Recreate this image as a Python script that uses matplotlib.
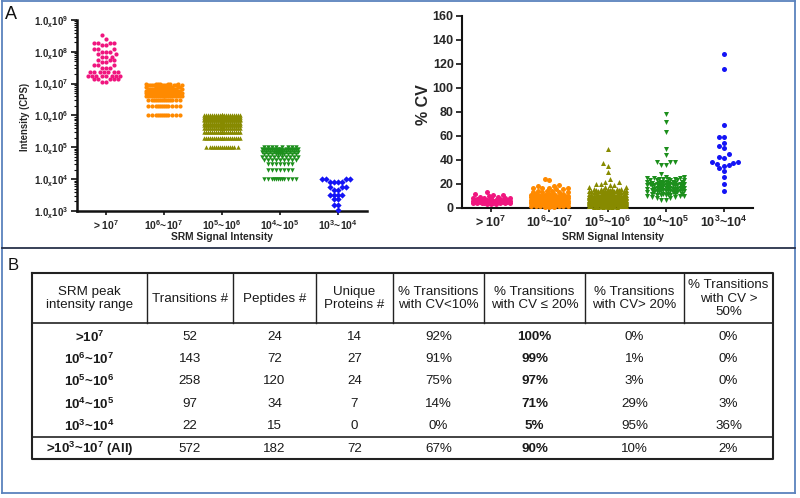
import numpy as np
import matplotlib
matplotlib.use('Agg')
import matplotlib.pyplot as plt
from matplotlib.ticker import FixedLocator, NullFormatter, LogLocator

plt.rcParams['font.family'] = ['Liberation Sans', 'DejaVu Sans']
plt.rcParams['mathtext.fontset'] = 'custom'
plt.rcParams['mathtext.rm'] = 'Liberation Sans'
plt.rcParams['mathtext.bf'] = 'Liberation Sans:bold'

# ---------------- data ----------------
categories = [r'> $\mathregular{10^{7}}$',
              r'$\mathregular{10^{6}}$~$\mathregular{10^{7}}$',
              r'$\mathregular{10^{5}}$~$\mathregular{10^{6}}$',
              r'$\mathregular{10^{4}}$~$\mathregular{10^{5}}$',
              r'$\mathregular{10^{3}}$~$\mathregular{10^{4}}$']
colors = ['#f0167f', '#ff8a00', '#878a00', '#1c8f1c', '#1414f5']
markers_left = ['o', 'o', '^', 'v', 'D']
markers_right = ['o', 'o', '^', 'v', 'o']

# Intensity (CPS): distinct values and how many transitions sit at each
pink_int_vals = [3.3e8, 2.6e8, 1.95e8, 1.6e8, 1.25e8, 1.0e8, 8.7e7, 6.9e7,
                 5.4e7, 4.8e7, 4.0e7, 3.2e7, 2.3e7, 1.8e7, 1.4e7, 1.1e7]
pink_int_counts = [1, 1, 4, 2, 3, 3, 2, 3, 3, 2, 3, 3, 7, 8, 5, 2]
orange_int_vals = [1e6, 2e6, 3e6, 4e6, 5e6, 6e6, 7e6, 8e6, 9e6, 1e7]
orange_int_counts = [12, 12, 14, 20, 22, 18, 16, 12, 10, 7]
olive_int_vals = [1e5, 2e5, 3e5, 4e5, 5e5, 6e5, 7e5, 8e5, 9e5, 1e6]
olive_int_counts = [15, 20, 25, 28, 30, 32, 32, 28, 25, 23]
green_int_vals = [1e4, 2e4, 3e4, 4e4, 5e4, 6e4, 7e4, 8e4, 9e4, 1e5]
green_int_counts = [12, 7, 7, 9, 10, 11, 12, 11, 10, 8]
blue_int_vals = [1e4, 8e3, 5.7e3, 4.5e3, 3.2e3, 2.3e3, 1.5e3, 1.1e3]
blue_int_counts = [4, 4, 3, 2, 4, 2, 2, 1]

# % CV: distinct values and counts
pink_cv_vals = [13.5, 11.5, 11, 10.5, 10, 9.5, 9, 8.5, 8, 7.5, 7, 6.5, 6, 5.5, 5, 4.5, 4, 3.5, 3]
pink_cv_counts = [1, 1, 1, 1, 1, 1, 1, 2, 3, 2, 4, 4, 6, 6, 6, 5, 4, 2, 1]
orange_cv_vals = [24.5, 23.5, 19, 18, 17, 16, 14, 13, 12, 11, 10, 9, 8, 7, 6, 5, 4, 3, 2, 1]
orange_cv_counts = [1, 1, 1, 2, 4, 2, 3, 4, 4, 6, 8, 10, 12, 14, 16, 16, 16, 12, 8, 3]
olive_cv_vals = [49, 37.5, 35, 30, 24.5, 22, 20, 19, 17.5, 16, 15, 14, 13, 12, 11, 10,
                 9, 8, 7, 6, 5, 4, 3, 2, 1]
olive_cv_counts = [1, 1, 1, 1, 1, 2, 2, 2, 3, 6, 6, 8, 10, 12, 14, 16,
                   18, 20, 22, 24, 24, 24, 20, 14, 6]
green_cv_vals = [78, 71.5, 63.5, 49, 44.5, 38.5, 35.5, 28.5, 26, 25, 24, 23, 22, 21, 20,
                 19, 18, 17, 16, 15, 14, 13, 12, 11, 10, 9, 8, 7]
green_cv_counts = [1, 1, 1, 1, 1, 3, 2, 1, 2, 3, 4, 5, 5, 5, 5,
                   6, 6, 6, 5, 5, 6, 5, 5, 4, 3, 2, 2, 2]
blue_cv_vals = [128.6, 115.6, 69, 59, 54, 52, 50, 45, 42.5, 42, 38, 37.5, 37, 36, 35,
                33.5, 30.5, 25.5, 20, 14]
blue_cv_counts = [1, 1, 1, 2, 1, 1, 1, 1, 1, 1, 2, 1, 1, 1, 1, 1, 1, 1, 1, 1]

int_groups = [(pink_int_vals, pink_int_counts), (orange_int_vals, orange_int_counts),
              (olive_int_vals, olive_int_counts), (green_int_vals, green_int_counts),
              (blue_int_vals, blue_int_counts)]
cv_groups = [(pink_cv_vals, pink_cv_counts), (orange_cv_vals, orange_cv_counts),
             (olive_cv_vals, olive_cv_counts), (green_cv_vals, green_cv_counts),
             (blue_cv_vals, blue_cv_counts)]

left_yticks = [1e3, 1e4, 1e5, 1e6, 1e7, 1e8, 1e9]
left_ytick_labels = [r'$\mathregular{1.0_{x}10^{%d}}$' % e for e in range(3, 10)]
right_yticks = [0, 20, 40, 60, 80, 100, 120, 140, 160]

table_header = ['SRM peak\nintensity range', 'Transitions #', 'Peptides #',
                'Unique\nProteins #', '% Transitions\nwith CV<10%',
                '% Transitions\nwith CV \u2264 20%', '% Transitions\nwith CV> 20%',
                '% Transitions\nwith CV >\n50%']
row_labels = [r'>$\mathregular{10^{7}}$',
              r'$\mathregular{10^{6}}$~$\mathregular{10^{7}}$',
              r'$\mathregular{10^{5}}$~$\mathregular{10^{6}}$',
              r'$\mathregular{10^{4}}$~$\mathregular{10^{5}}$',
              r'$\mathregular{10^{3}}$~$\mathregular{10^{4}}$',
              r'>$\mathregular{10^{3}}$~$\mathregular{10^{7}}$ (All)']
transitions = ['52', '143', '258', '97', '22', '572']
peptides = ['24', '72', '120', '34', '15', '182']
proteins = ['14', '27', '24', '7', '0', '72']
cv_lt10 = ['92%', '91%', '75%', '14%', '0%', '67%']
cv_le20 = ['100%', '99%', '97%', '71%', '5%', '90%']
cv_gt20 = ['0%', '1%', '3%', '29%', '95%', '10%']
cv_gt50 = ['0%', '0%', '0%', '3%', '36%', '2%']

# ---------------- figure ----------------
W, H = 800, 498
fig = plt.figure(figsize=(W / 100, H / 100), dpi=100)
bg = fig.add_axes([0, 0, 1, 1])
bg.set_xlim(0, W)
bg.set_ylim(H, 0)
bg.axis('off')

def px_axes(x0, y0, x1, y1):
    return fig.add_axes([x0 / W, 1 - y1 / H, (x1 - x0) / W, (y1 - y0) / H])

TXT = '#262626'

def swarm_x(ax, xc, vals, d, halfw):
    vals = np.asarray(vals, float)
    pts = ax.transData.transform(np.column_stack([np.full(len(vals), xc), vals]))
    ypix = pts[:, 1]
    ppu = ax.transData.transform((1, 0))[0] - ax.transData.transform((0, 0))[0]
    step = d / 2
    c = np.arange(0, halfw + 1e-9, step)
    cands = [0.0]
    for v in c[1:]:
        cands += [-v, v]
    cands = np.array(cands)
    xs = np.zeros(len(vals))
    px, py = [], []
    for i in np.argsort(ypix, kind='stable'):
        y = ypix[i]
        if not px:
            chosen = 0.0
        else:
            PX = np.array(px); PY = np.array(py)
            best, bestd = 0.0, -1
            chosen = None
            for cx in cands:
                dist = np.min(np.hypot(PX - cx, PY - y))
                if dist >= d * 0.98:
                    chosen = cx
                    break
                if dist > bestd + 1e-9:
                    bestd, best = dist, cx
            if chosen is None:
                chosen = best
        xs[i] = xc + chosen / ppu
        px.append(chosen); py.append(y)
    return xs

def style_axes(ax, lw):
    for s in ['top', 'right']:
        ax.spines[s].set_visible(False)
    for s in ['left', 'bottom']:
        ax.spines[s].set_linewidth(lw)
        ax.spines[s].set_color('#111111')

# ---- left: intensity ----
axL = px_axes(77, 20, 367, 211)
axL.set_yscale('log')
axL.set_ylim(1e3, 1e9)
axL.set_xlim(-0.5, 4.5)
style_axes(axL, 1.8)
axL.yaxis.set_major_locator(FixedLocator(left_yticks))
axL.set_yticklabels(left_ytick_labels)
axL.yaxis.set_minor_locator(LogLocator(base=10, subs=np.arange(2, 10)))
axL.yaxis.set_minor_formatter(NullFormatter())
axL.tick_params(axis='y', which='major', length=4, width=1.2, pad=2,
                labelsize=7, colors='#111111', labelcolor=TXT)
axL.tick_params(axis='y', which='minor', length=2, width=0.8, colors='#111111')
axL.set_xticks(range(5))
axL.set_xticklabels(categories)
axL.tick_params(axis='x', length=3, width=1.2, pad=2, labelsize=7.5,
                colors='#111111', labelcolor=TXT)
for lab in axL.get_xticklabels() + axL.get_yticklabels():
    lab.set_fontweight('bold')

for k, (vals, cnts) in enumerate(int_groups):
    v = np.repeat(vals, cnts)
    xs = swarm_x(axL, k, v, 4.0, 19)
    axL.scatter(xs, v, s=(3.0 if markers_left[k] in 'o' else 3.2) ** 2,
                marker=markers_left[k], color=colors[k], linewidths=0, zorder=3,
                clip_on=False)

# ---- right: CV ----
axR = px_axes(462, 16, 753, 208)
axR.set_ylim(0, 160)
axR.set_xlim(-0.5, 4.5)
style_axes(axR, 1.5)
axR.set_yticks(right_yticks)
axR.tick_params(axis='y', length=4, width=1.2, pad=2, labelsize=9,
                colors='#111111', labelcolor=TXT)
axR.set_xticks(range(5))
axR.set_xticklabels(categories)
axR.tick_params(axis='x', length=3, width=1.2, pad=2, labelsize=9,
                colors='#111111', labelcolor=TXT)
for lab in axR.get_xticklabels() + axR.get_yticklabels():
    lab.set_fontweight('bold')

for k, (vals, cnts) in enumerate(cv_groups):
    v = np.repeat(vals, cnts)
    xs = swarm_x(axR, k, v, 4.6, 20)
    axR.scatter(xs, v, s=3.6 ** 2, marker=markers_right[k], color=colors[k],
                linewidths=0, zorder=3, clip_on=False)

# axis labels
bg.text(222, 237, 'SRM Signal Intensity', fontsize=7.4, fontweight='bold',
        color=TXT, ha='center', va='center')
bg.text(25, 117, 'Intensity (CPS)', fontsize=6.9, fontweight='bold', color=TXT,
        ha='center', va='center', rotation=90)
bg.text(613, 237, 'SRM Signal Intensity', fontsize=7.4, fontweight='bold',
        color=TXT, ha='center', va='center')
bg.text(424, 105, '% CV', fontsize=11.5, fontweight='bold', color=TXT,
        ha='center', va='center', rotation=90)

# panel letters
bg.text(5, 14, 'A', fontsize=13, color='#111111', ha='left', va='center')
bg.text(8, 265, 'B', fontsize=12, color='#111111', ha='left', va='center')

# frame
blue = '#5a82bd'
bg.plot([2, 2], [1, 493], color=blue, lw=1.3)
bg.plot([2, 795], [1, 1], color=blue, lw=1.3)
bg.plot([795, 795], [1, 493], color=blue, lw=1.3)
bg.plot([2, 795], [493, 493], color=blue, lw=1.3)
bg.plot([2, 795], [247.5, 247.5], color='#27324a', lw=1.3)

# ---------------- table ----------------
col_edges = [32, 147, 233, 316, 393, 484, 585, 684, 773]
t_top, t_head, t_sum, t_bot = 273, 323, 437, 459
row_centers = [337, 359, 381, 404, 426, 449]
tc = '#1a1a1a'
bg.plot([col_edges[0], col_edges[-1], col_edges[-1], col_edges[0], col_edges[0]],
        [t_top, t_top, t_bot, t_bot, t_top], color='#222222', lw=1.5)
bg.plot([col_edges[0], col_edges[-1]], [t_head, t_head], color='#222222', lw=1.2)
bg.plot([col_edges[0], col_edges[-1]], [t_sum, t_sum], color='#222222', lw=1.2)
for xe in col_edges[1:-1]:
    bg.plot([xe, xe], [t_top, t_head], color='#222222', lw=1.0)

centers = [(a + b) / 2 for a, b in zip(col_edges[:-1], col_edges[1:])]
for cx, txt in zip(centers, table_header):
    bg.text(cx, (t_top + t_head) / 2 + 0.5, txt, fontsize=9.6, color=tc,
            ha='center', va='center', linespacing=1.15)

columns = [row_labels, transitions, peptides, proteins, cv_lt10, cv_le20, cv_gt20, cv_gt50]
for j, col in enumerate(columns):
    for i, txt in enumerate(col):
        bold = j in (0, 5)
        bg.text(centers[j], row_centers[i], txt, fontsize=9.6, color=tc,
                fontweight='bold' if bold else 'normal', ha='center', va='center')

fig.savefig('out.png', dpi=100)
